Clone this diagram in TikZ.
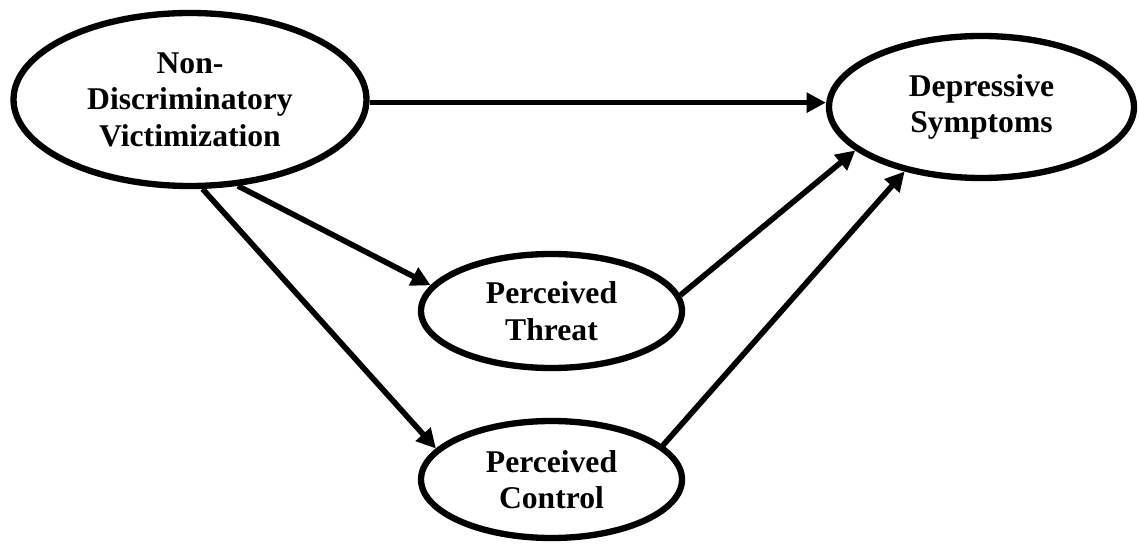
\documentclass[tikz,border=0pt]{standalone}
\usepackage{fontspec}
\setmainfont{Liberation Serif}
\usetikzlibrary{shapes.geometric,arrows.meta}

\begin{document}
\begin{tikzpicture}[
    var/.style={ellipse, draw=black, line width=3.6pt, inner sep=0pt, align=center, font=\fontsize{18}{20.8}\selectfont\bfseries},
    arrow/.style={-{Triangle[length=11pt,width=11pt]}, line width=3.2pt, black},
]
\useasboundingbox (0,0) rectangle (22.78,10.88);

\node[var, minimum width=7.06cm, minimum height=3.46cm] (NDV) at (3.8,8.89) {Non-\\Discriminatory\\Victimization};
\node[var, minimum width=6.1cm, minimum height=2.84cm] (DEP) at (19.63,8.74) {Depressive\\Symptoms};
\node[var, minimum width=5.22cm, minimum height=2.28cm] (THR) at (11.03,4.66) {Perceived\\Threat};
\node[var, minimum width=5.22cm, minimum height=2.34cm] (CTL) at (11.03,1.29) {Perceived\\Control};

\draw[arrow] (NDV.-1.5) -- (DEP.west |- NDV.-1.5);
\draw[arrow] (NDV.-61) -- (THR.168);
\draw[arrow] (NDV.-82) -- (CTL.165);
\draw[arrow] (THR.7) -- (DEP.199);
\draw[arrow] (CTL.17) -- (DEP.220);
\end{tikzpicture}
\end{document}
